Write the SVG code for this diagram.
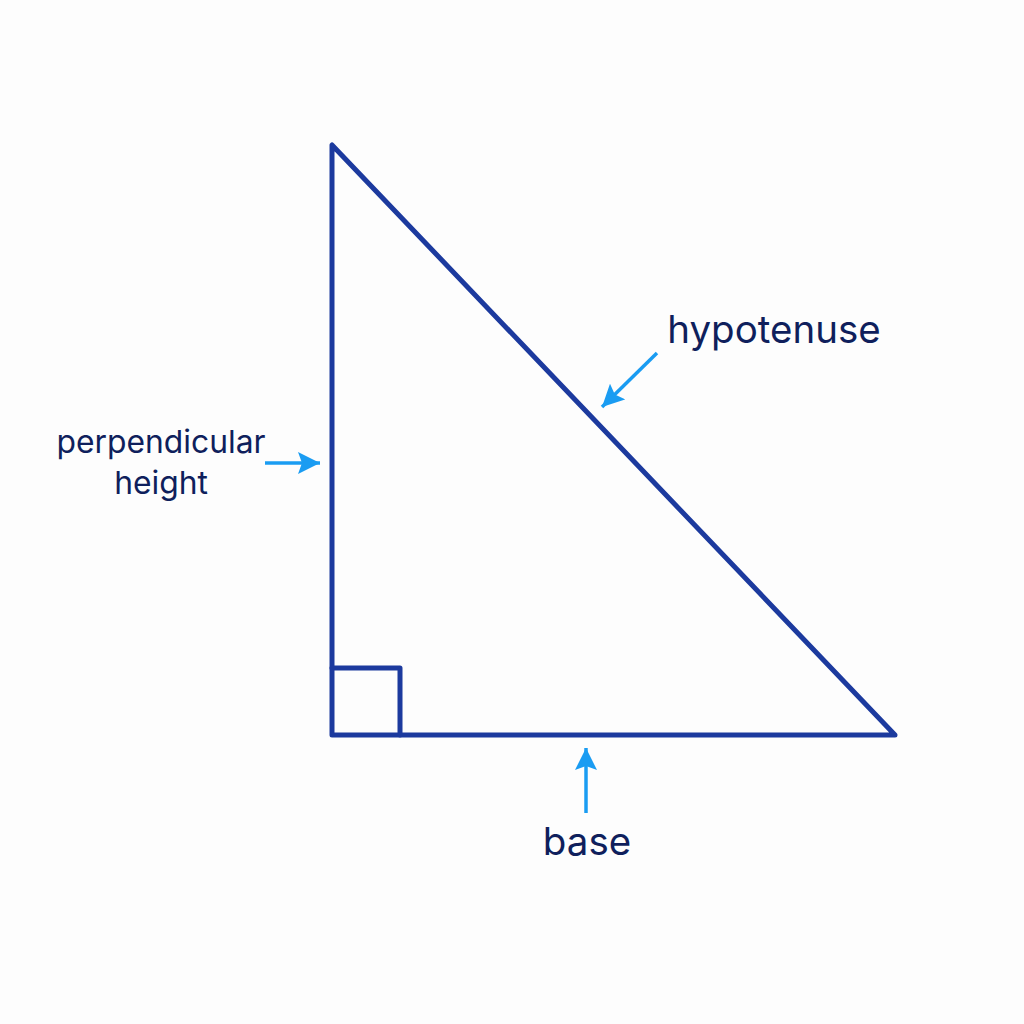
<svg xmlns="http://www.w3.org/2000/svg" width="1024" height="1024" viewBox="0 0 1024 1024">
<style>
.edge{fill:none;stroke:#1c3a9e;stroke-width:5;stroke-linejoin:round;stroke-linecap:round}
.arr{fill:none;stroke:#1a9cf2;stroke-width:3.5}
.lbl{font-family:Inter,"Liberation Sans",sans-serif;fill:#0f1f5c;text-anchor:middle;font-weight:400}
</style>
<defs>
<marker id="head" viewBox="0 0 22 22" refX="22" refY="11" markerWidth="22" markerHeight="22" orient="auto" markerUnits="userSpaceOnUse">
<path d="M0,0 L22,11 L0,22 L4,11 Z" fill="#1a9cf2"/>
</marker>
</defs>
<rect width="1024" height="1024" fill="#fdfdfd"/>
<g id="triangle">
<path class="edge" d="M332,145 L332,735 L895,735 Z"/>
<path class="edge" d="M332,668 L400,668 L400,735"/>
</g>
<g id="connectors">
<line class="arr" x1="265" y1="463" x2="320" y2="463" marker-end="url(#head)"/>
<line class="arr" x1="657" y1="353" x2="602" y2="407" marker-end="url(#head)"/>
<line class="arr" x1="586" y1="813" x2="586" y2="748" marker-end="url(#head)"/>
</g>
<g id="label-perpendicular">
<text class="lbl" x="161" y="453" font-size="31.8">perpendicular</text>
<text class="lbl" x="161" y="494" font-size="31.8">height</text>
</g>
<g id="label-hypotenuse">
<text class="lbl" x="774" y="343" font-size="38.5">hypotenuse</text>
</g>
<g id="label-base">
<text class="lbl" x="587" y="855" font-size="38.5">base</text>
</g>
</svg>
